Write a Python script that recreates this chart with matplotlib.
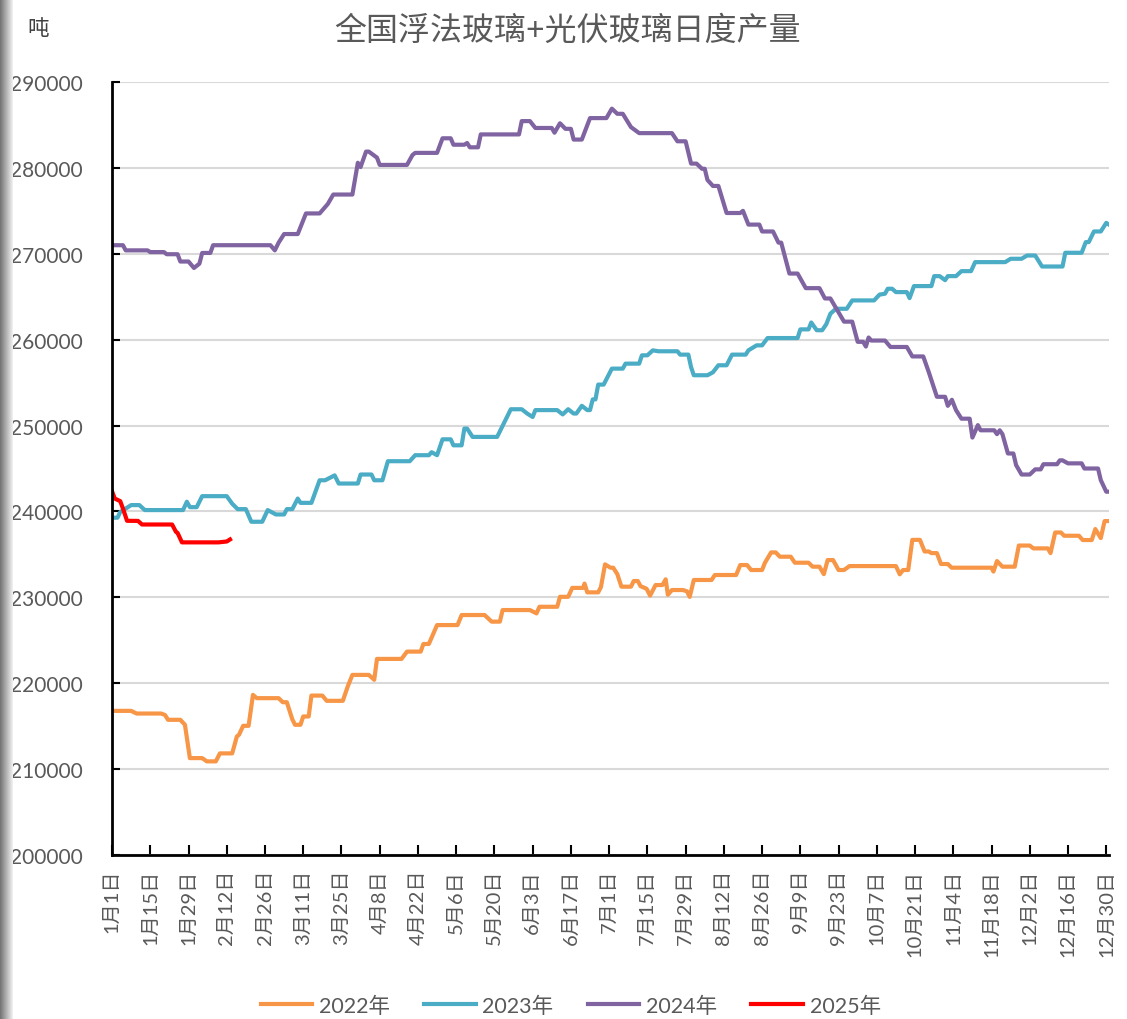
import matplotlib
matplotlib.use("Agg")
import matplotlib.pyplot as plt
import numpy as np

plt.rcParams['font.family'] = ['Lato', 'Noto Sans CJK SC', 'DejaVu Sans']

# day index (0 = 1月1日) and daily output (吨)
days_2022 = [0, 7, 9, 18, 19.4, 20.5, 25, 26.7, 28.5, 33, 34.7, 38, 39.5, 44, 45.7, 46.5, 48, 50,
             51.6, 53, 61, 62.5, 64, 66, 67, 69, 70, 72, 73, 77, 78.6, 84.5, 86.3, 88, 94, 96, 97,
             106, 108, 113, 114, 116, 117.4, 119, 126.5, 128, 136.4, 139, 142, 143, 153, 155.4,
             156.5, 163, 164, 167, 168.5, 172.5, 173, 174, 178, 179, 180.5, 182.5, 183.5, 185,
             186.5, 190, 191, 192.5, 193.5, 195.7, 197, 199, 201.5, 202.7, 203.5, 205, 209, 210.5,
             211.5, 213, 219.5, 220.7, 228.5, 230, 232.5, 234, 238, 239, 241.3, 243, 244.5, 248.5,
             250, 255, 256.5, 259, 260.6, 262, 264, 266, 268, 270, 287, 288.4, 289.6, 291.5, 293,
             295.8, 297.5, 299, 300, 302, 303.5, 306, 307.4, 322, 322.7, 324, 326, 330.5, 332, 336,
             337.3, 342.6, 343.6, 345.3, 347.4, 348.6, 354, 355.4, 358.7, 360, 362, 363.4, 365]
vals_2022 = [216780, 216780, 216470, 216470, 216300, 215740, 215740, 215160, 211280, 211280, 210900,
             210900, 211830, 211830, 213800, 214000, 215040, 215040, 218640, 218260, 218260, 217790,
             217790, 215800, 215160, 215160, 216130, 216130, 218560, 218560, 217950, 217950, 219620,
             220970, 220970, 220400, 222830, 222830, 223680, 223680, 224570, 224570, 225610, 226770,
             226770, 227940, 227940, 227170, 227170, 228520, 228520, 228130, 228900, 228900, 230060,
             230060, 231100, 231100, 231600, 230580, 230580, 231200, 233840, 233450, 233450, 232700,
             231240, 231240, 231900, 231900, 231300, 231000, 230200, 231430, 231430, 232100, 230300,
             230850, 230850, 230700, 230050, 232020, 232020, 232600, 232600, 233760, 233760, 233180,
             233180, 234000, 235230, 235230, 234730, 234730, 234030, 234030, 233570, 233570, 232700,
             234340, 234340, 233180, 233180, 233640, 233640, 232680, 233180, 233180, 236690, 236690,
             235340, 235340, 235150, 235150, 233880, 233880, 233450, 233450, 233000, 234220, 233570,
             233570, 236030, 236030, 235700, 235700, 235150, 237550, 237550, 237170, 237170, 236670,
             236670, 237950, 236900, 238880, 238880]

days_2023 = [0, 2, 3, 7, 10, 12, 26, 27.4, 28.5, 31, 33, 42, 44, 46, 49, 51, 55, 57, 60, 63, 64, 66,
             68, 69, 73, 76, 78, 81.5, 83, 90, 91, 95, 96, 99, 101, 109, 111, 116, 117, 119, 121,
             124, 125, 128, 129, 130, 132, 141, 146, 150, 152, 154, 155, 163, 165, 167, 169, 170,
             172, 174, 175, 176, 177, 178, 180, 183, 187, 188, 193, 194, 196, 198, 200, 207, 208,
             211, 212, 213, 218, 220, 222, 225, 227, 232, 233, 236, 238, 240, 251, 252, 255, 256,
             258, 260, 261.5, 263, 265, 269, 271, 279, 281, 283, 284, 285.6, 287, 291, 292, 293.6,
             300, 301, 303, 305, 306, 309, 311, 314.5, 316, 327, 329, 333, 335, 338, 340.5, 348,
             349, 355, 356.5, 357.6, 359.5, 362, 364, 365]
vals_2023 = [239270, 239270, 239930, 240740, 240740, 240160, 240160, 241130, 240500, 240500, 241780,
             241780, 240900, 240270, 240270, 238800, 238800, 240160, 239650, 239650, 240270, 240270,
             241500, 241000, 241000, 243630, 243630, 244200, 243250, 243250, 244300, 244300, 243630,
             243630, 245850, 245850, 246550, 246550, 246900, 246550, 248400, 248400, 247700, 247700,
             249650, 249650, 248680, 248680, 251900, 251900, 251400, 251000, 251800, 251800, 251300,
             251900, 251400, 251400, 252300, 251800, 251800, 253050, 253050, 254770, 254770, 256630,
             256630, 257210, 257210, 258180, 258180, 258760, 258650, 258650, 258260, 258260, 256800,
             255860, 255860, 256200, 257020, 257020, 258260, 258260, 258760, 259340, 259340, 260190,
             260190, 261200, 261200, 262000, 261100, 261100, 261800, 263020, 263600, 263600, 264570,
             264570, 265250, 265350, 265930, 265930, 265540, 265540, 264840, 266240, 266240, 267400,
             267400, 266930, 267400, 267400, 267980, 267980, 269030, 269030, 269420, 269420, 269800,
             269800, 268520, 268520, 270120, 270120, 271360, 271360, 272600, 272600, 273600, 273400]

days_2024 = [0, 4, 5, 13, 14, 19, 20, 24, 25, 28, 30, 31, 32, 33, 36, 37, 58, 59.6, 61, 63, 68, 71,
             76, 79, 81, 88, 90, 91, 93, 94, 97, 98, 108, 110, 111, 119, 121, 124, 125, 129, 130,
             131, 134, 135, 149, 150, 153, 155, 161, 162, 164, 166, 168, 169, 172, 175, 181, 183,
             185, 187, 190, 193, 205, 207, 210, 212, 214, 216, 217, 218, 220, 222, 225, 230, 231,
             233, 237, 238, 242, 244, 245, 248, 251, 254, 259, 261, 263, 268, 271, 273, 275, 276,
             277, 278, 283, 285, 291, 293, 297, 299, 302, 305, 306, 307.5, 309, 311, 314, 315, 317,
             318, 323, 324, 325, 326, 328, 330, 331, 333, 336, 338, 340, 341, 346, 347, 348, 350,
             355, 356, 361, 362, 364, 365]
vals_2024 = [271000, 271000, 270400, 270400, 270200, 270200, 269950, 269950, 269100, 269100, 268350,
             268600, 268850, 270100, 270100, 271000, 271000, 270400, 271300, 272300, 272300, 274700,
             274700, 275800, 276900, 276900, 280600, 280100, 281900, 281900, 281200, 280350, 280350,
             281500, 281750, 281750, 283450, 283450, 282700, 282700, 282900, 282400, 282400, 283900,
             283900, 285450, 285450, 284650, 284650, 284100, 285200, 284550, 284550, 283300, 283300,
             285800, 285800, 286900, 286300, 286300, 284750, 284050, 284050, 283100, 283100, 280500,
             280500, 279900, 279900, 278600, 277900, 277900, 274750, 274750, 275000, 273400, 273400,
             272600, 272600, 271300, 271300, 267700, 267700, 266000, 266000, 264800, 264800, 262100,
             262100, 259750, 259750, 259200, 260250, 259900, 259900, 259150, 259150, 258050, 258050,
             256250, 253350, 253350, 252300, 253000, 251800, 250800, 250800, 248600, 250050, 249450,
             249450, 249000, 249450, 249000, 246750, 246750, 245400, 244300, 244300, 244900, 244900,
             245500, 245500, 245950, 245950, 245600, 245600, 245000, 245000, 243650, 242300, 242300]

days_2025 = [0, 1, 3, 4, 5.5, 9.5, 11, 22, 23.4, 24, 25.6, 39, 42, 43.2]
vals_2025 = [242350, 241500, 241200, 240340, 238910, 238900, 238480, 238480, 237630, 237500, 236400,
             236400, 236500, 236740]

tick_days = list(range(0, 365, 14))
tick_labels = ['1月1日', '1月15日', '1月29日', '2月12日', '2月26日', '3月11日', '3月25日', '4月8日',
               '4月22日', '5月6日', '5月20日', '6月3日', '6月17日', '7月1日', '7月15日', '7月29日',
               '8月12日', '8月26日', '9月9日', '9月23日', '10月7日', '10月21日', '11月4日', '11月18日',
               '12月2日', '12月16日', '12月30日']

fig = plt.figure(figsize=(11.27, 10.2), dpi=100)
ax = fig.add_axes([0.0994, 0.1608, 0.8846, 0.7578])

lw = 3.0
ax.plot(days_2022, vals_2022, color='#F79646', lw=lw, label='2022年', solid_joinstyle='round')
ax.plot(days_2023, vals_2023, color='#4BACC6', lw=lw, label='2023年', solid_joinstyle='round')
ax.plot(days_2024, vals_2024, color='#8064A2', lw=lw, label='2024年', solid_joinstyle='round')
ax.plot(days_2025, vals_2025, color='#FF0000', lw=lw, label='2025年', solid_joinstyle='round')

ax.set_xlim(0, 365)
ax.set_ylim(200000, 290000)
ax.set_yticks(np.arange(200000, 290001, 10000))
ax.set_xticks(tick_days)
ax.set_xticklabels(tick_labels, rotation=90, fontsize=14.5, color='#595959')
ax.tick_params(axis='y', labelsize=15, labelcolor='#595959', direction='in', length=6, width=1.5, pad=21)
ax.tick_params(axis='x', direction='in', length=7, width=1.5, pad=10)

ax.grid(axis='y', color='#D9D9D9', lw=1.5)
ax.set_axisbelow(True)
for s in ['top', 'right']:
    ax.spines[s].set_visible(False)
for s in ['left', 'bottom']:
    ax.spines[s].set_linewidth(2)
    ax.spines[s].set_color('black')

fig.text(0.504, 0.970, '全国浮法玻璃+光伏玻璃日度产量', ha='center', va='center',
         fontsize=23, color='#595959')
fig.text(0.034, 0.972, '吨', ha='center', va='center', fontsize=15.5, color='#404040')

ax.legend(loc='center', bbox_to_anchor=(0.46, -0.195), ncol=4, frameon=False,
          fontsize=15.5, labelcolor='#595959', handlelength=2.4, columnspacing=1.6, handletextpad=0.3)

# grey page edge on the left
edge = fig.add_axes([0, 0, 0.011, 1])
edge.imshow(np.linspace(0.45, 0.95, 50)[None, :], cmap='gray', aspect='auto', vmin=0, vmax=1)
edge.axis('off')

fig.savefig('out.png', dpi=100)
